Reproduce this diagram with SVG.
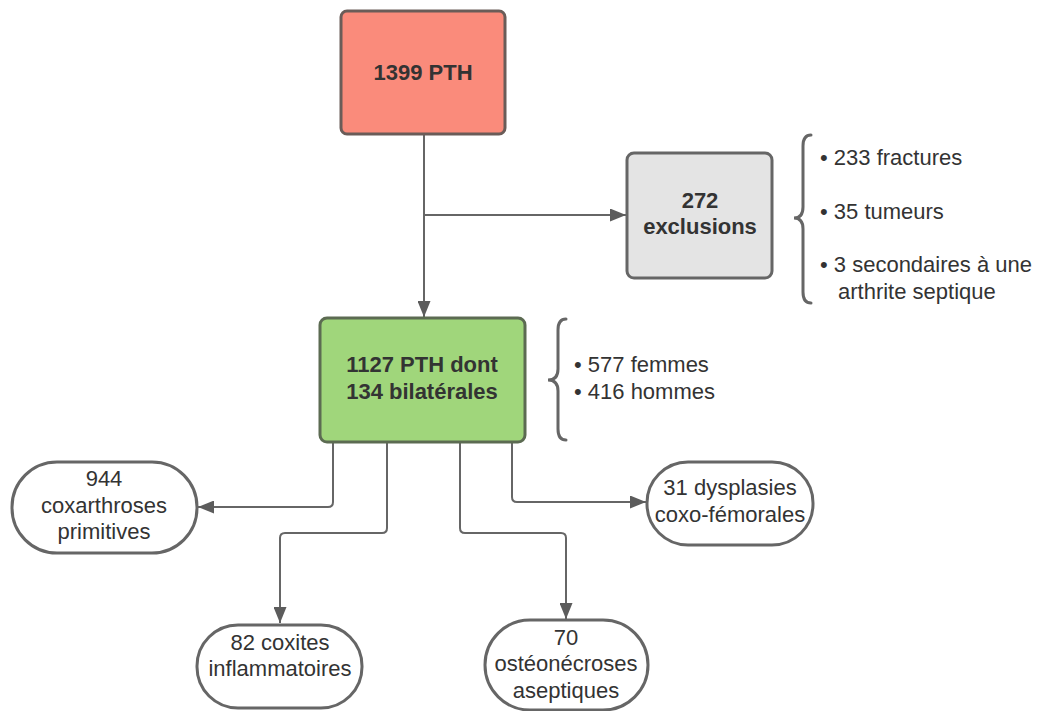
<svg xmlns="http://www.w3.org/2000/svg" width="1045" height="711" viewBox="0 0 1045 711">
<defs>
<style>
.box{stroke-width:3}
.pill{fill:#fff;stroke:#666;stroke-width:3}
.t{font-family:"Liberation Sans",Arial,sans-serif;font-size:22px;fill:#333}
.b{font-weight:bold;text-anchor:middle}
.c{text-anchor:middle}
.conn{fill:none;stroke:#666;stroke-width:2}
.brace{fill:none;stroke:#666;stroke-width:3;stroke-linecap:round}
</style>
<marker id="arr" viewBox="0 0 16 13" refX="16" refY="6.5" markerWidth="16" markerHeight="13" markerUnits="userSpaceOnUse" orient="auto">
<path d="M0,0 L16,6.5 L0,13 z" fill="#5c5c5c"/>
</marker>
</defs>
<rect width="1045" height="711" fill="#fff"/>
<g id="connectors">
<path class="conn" d="M424,134 L424,317" marker-end="url(#arr)"/>
<path class="conn" d="M424,215 L626,215" marker-end="url(#arr)"/>
<path class="conn" d="M333,443 L333,502 Q333,507 328,507 L198,507" marker-end="url(#arr)"/>
<path class="conn" d="M387,443 L387,528 Q387,533 382,533 L285,533 Q280,533 280,538 L280,623" marker-end="url(#arr)"/>
<path class="conn" d="M460,443 L460,528 Q460,533 465,533 L561,533 Q566,533 566,538 L566,619" marker-end="url(#arr)"/>
<path class="conn" d="M512,443 L512,497 Q512,502 517,502 L646,502" marker-end="url(#arr)"/>
</g>
<g id="n-1399">
<rect class="box" x="341" y="11" width="164" height="123" rx="6" fill="#FA8B7B" stroke="#6a5c58"/>
<text class="t b" x="423" y="80">1399 PTH</text>
</g>
<g id="n-272">
<rect class="box" x="627" y="153" width="145" height="125" rx="7" fill="#E4E4E4" stroke="#666"/>
<text class="t b" x="700" y="208">272</text>
<text class="t b" x="700" y="234">exclusions</text>
</g>
<g id="excl-list">
<path class="brace" d="M811,135 Q803,135 803,146 L803,207 Q803,218 794,218 Q803,218 803,229 L803,292 Q803,303 811,303"/>
<text class="t" x="820" y="165">• 233 fractures</text>
<text class="t" x="820" y="219">• 35 tumeurs</text>
<text class="t" x="820" y="272">• 3 secondaires à une</text>
<text class="t" x="838" y="299">arthrite septique</text>
</g>
<g id="n-1127">
<rect class="box" x="320" y="318" width="205" height="124" rx="7" fill="#A0D67B" stroke="#5c6b52"/>
<text class="t b" x="422" y="372">1127 PTH dont</text>
<text class="t b" x="422" y="399">134 bilatérales</text>
</g>
<g id="sex-list">
<path class="brace" d="M566,319 Q558,319 558,330 L558,369 Q558,380 548,380 Q558,380 558,391 L558,429 Q558,440 566,440"/>
<text class="t" x="574" y="372">• 577 femmes</text>
<text class="t" x="574" y="399">• 416 hommes</text>
</g>
<g id="n-944">
<rect class="pill" x="12" y="462" width="185" height="91" rx="45"/>
<text class="t c" x="104" y="486">944</text>
<text class="t c" x="104" y="513">coxarthroses</text>
<text class="t c" x="104" y="539">primitives</text>
</g>
<g id="n-82">
<rect class="pill" x="197" y="625" width="165" height="83" rx="41"/>
<text class="t c" x="280" y="650">82 coxites</text>
<text class="t c" x="280" y="676">inflammatoires</text>
</g>
<g id="n-70">
<rect class="pill" x="485" y="620" width="163" height="90" rx="45"/>
<text class="t c" x="566" y="645">70</text>
<text class="t c" x="566" y="671">ostéonécroses</text>
<text class="t c" x="566" y="698">aseptiques</text>
</g>
<g id="n-31">
<rect class="pill" x="647" y="462" width="166" height="83" rx="41"/>
<text class="t c" x="730" y="495">31 dysplasies</text>
<text class="t c" x="730" y="522">coxo-fémorales</text>
</g>
</svg>
